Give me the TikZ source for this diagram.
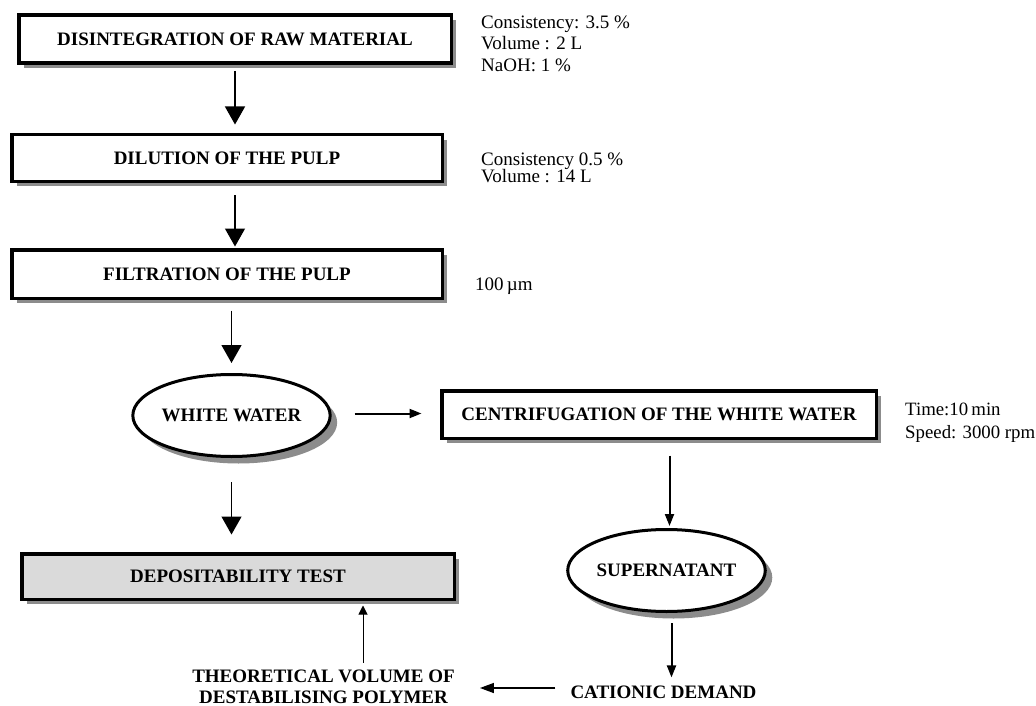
\documentclass[tikz,border=0pt]{standalone}
\usepackage{fontspec}
\setmainfont{Liberation Serif}
\usetikzlibrary{shapes.geometric,shadows,arrows.meta}
\begin{document}
\begin{tikzpicture}[x=1pt,y=-1pt,
  shd/.style={drop shadow={shadow xshift=#1,shadow yshift=-#1,fill=gray!90,opacity=1}},
  stepbox/.style={draw,line width=3.5pt,fill=white,inner sep=0pt,
    minimum width=#1,font=\bfseries\fontsize{19}{21}\selectfont,shd=5pt},
  oval/.style={ellipse,draw,line width=3pt,fill=white,inner sep=0pt,
    minimum width=#1,minimum height=82pt,font=\bfseries\fontsize{19}{21}\selectfont,shd=7pt},
  plain/.style={inner sep=0pt,font=\bfseries\fontsize{19}{21.5}\selectfont,align=center},
  note/.style={inner sep=0pt,anchor=west,align=left},
  bigarrow/.style={-{Triangle[width=20pt,length=18pt]},line width=1.3pt},
  midarrow/.style={-{Triangle[width=9pt,length=12pt]},line width=2pt},
  thinarrow/.style={-{Triangle[width=10pt,length=14pt]},line width=1.4pt},
  tinyarrow/.style={-{Triangle[width=9pt,length=9pt]},line width=1pt}]
\useasboundingbox (0,0) rectangle (1036,706);

\node[stepbox=432.5pt,minimum height=48pt] (b1) at (235,39.25) {DISINTEGRATION OF RAW MATERIAL};
\node[stepbox=430.5pt,minimum height=46.5pt] (b2) at (227,158) {DILUTION OF THE PULP};
\node[stepbox=430.5pt,minimum height=48.5pt] (b3) at (227,274) {FILTRATION OF THE PULP};
\node[oval=188pt] (ww) at (231.5,415.5) {WHITE WATER};
\node[stepbox=434.5pt,minimum height=47.5pt] (cf) at (659,414.5) {CENTRIFUGATION OF THE WHITE WATER};
\node[stepbox=432.5pt,minimum height=45.5pt,fill=gray!29] (dep) at (238,576.5) {DEPOSITABILITY TEST};
\node[oval=192pt] (sup) at (666.5,570.5) {SUPERNATANT};
\node[plain] (cat) at (663.5,692) {CATIONIC DEMAND};
\node[plain] (theo) at (323.5,687) {THEORETICAL VOLUME OF\\DESTABILISING POLYMER};

\node[note,font=\fontsize{19}{21.3}\selectfont] (n1) at (481,43.7) {Consistency: 3.5 \%\\Volume : 2 L\\NaOH: 1 \%};
\node[note,font=\fontsize{19}{17.5}\selectfont] (n2) at (481,168) {Consistency 0.5 \%\\Volume : 14 L};
\node[note,font=\fontsize{19}{21}\selectfont] (n3) at (475,286) {100\,µm};
\node[note,font=\fontsize{18.8}{23}\selectfont] (n4) at (905,422.5) {Time:10\,min\\Speed: 3000 rpm};

\draw[bigarrow,shorten <=6pt,shorten >=8.5pt] (b1.south) -- (b1.south |- b2.north);
\draw[bigarrow,shorten <=12pt,shorten >=1.5pt] (b1.south |- b2.south) -- (b1.south |- b3.north);
\draw[bigarrow,shorten <=10.5pt,shorten >=10pt] (ww.north |- b3.south) -- (ww.north);
\draw[bigarrow,shorten <=24pt,shorten >=17.5pt] (ww.south) -- (ww.south |- dep.north);
\draw[midarrow,shorten <=23pt,shorten >=18.5pt] ([yshift=2pt]ww.east) -- ([yshift=2pt]ww.east -| cf.west);
\draw[midarrow,shorten <=15.5pt,shorten >=2pt] ([xshift=3pt]sup.north |- cf.south) -- ([xshift=3pt]sup.north);
\draw[midarrow,shorten <=10pt,shorten >=8pt] ([xshift=5pt]sup.south) -- ([xshift=5pt]sup.south |- cat.north);
\draw[thinarrow,shorten <=15pt,shorten >=25pt] ([yshift=4pt]cat.west) -- ([yshift=4pt]cat.west -| theo.east);
\draw[tinyarrow,shorten <=7pt,shorten >=4.5pt] ([xshift=39.5pt]theo.north) -- ([xshift=39.5pt]theo.north |- dep.south);
\end{tikzpicture}
\end{document}
